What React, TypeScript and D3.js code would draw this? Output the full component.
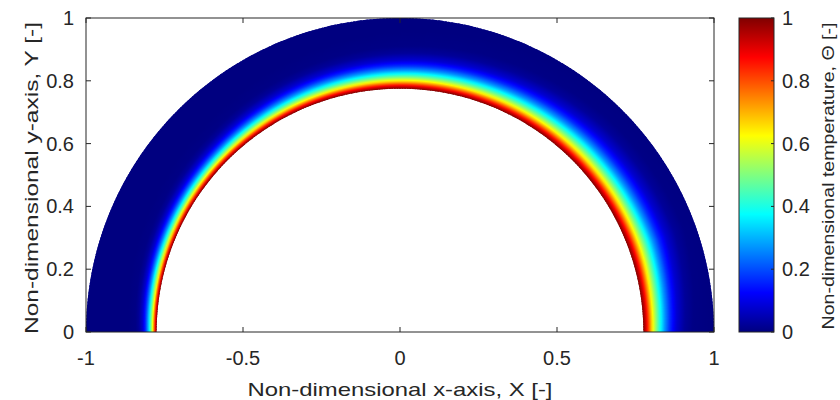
import React, { useMemo } from 'react';
import * as d3 from 'd3';

// ---- data ----
const xTicks = [-1, -0.5, 0, 0.5, 1];
const yTicks = [0, 0.2, 0.4, 0.6, 0.8, 1];
const cbTicks = [0, 0.2, 0.4, 0.6, 0.8, 1];
const xTickLabels = ['-1', '-0.5', '0', '0.5', '1'];
const yTickLabels = ['0', '0.2', '0.4', '0.6', '0.8', '1'];
const cbTickLabels = ['0', '0.2', '0.4', '0.6', '0.8', '1'];
const innerRadius = 0.775;
const outerRadius = 1;
// thermal layer thickness (distance from inner wall where Θ = 0.4) vs polar angle (deg)
const layerAngles = [0, 20, 45, 70, 90, 110, 135, 160, 180];
const layerThickness = [0.052, 0.062, 0.058, 0.05, 0.045, 0.04, 0.032, 0.027, 0.022];
// normalised temperature profile across the layer: s = (r - ri) / thickness
const profileS = [0, 0.15, 0.3, 0.55, 0.8, 1.0, 1.3, 1.6, 2.0, 2.5, 3.0, 4.0];
const profileTheta = [1, 0.92, 0.82, 0.64, 0.5, 0.4, 0.27, 0.17, 0.08, 0.025, 0.005, 0];
// jet colormap
const jetStops = [0, 0.125, 0.375, 0.625, 0.875, 1];
const jetColors = ['#000080', '#0000ff', '#00ffff', '#ffff00', '#ff0000', '#800000'];

const W = 840;
const H = 400;
const plot = { left: 86, right: 714, top: 18, bottom: 332 };
const cb = { left: 739, right: 774, top: 18, bottom: 332 };
const FONT = '"Liberation Sans", Arial, Helvetica, sans-serif';
const AX = '#262626';

export default function App() {
  const x = d3.scaleLinear().domain([-1, 1]).range([plot.left, plot.right]);
  const y = d3.scaleLinear().domain([0, 1]).range([plot.bottom, plot.top]);
  const color = d3.scaleLinear<string>().domain(jetStops).range(jetColors).clamp(true);
  const thick = d3.scaleLinear().domain(layerAngles).range(layerThickness).clamp(true);
  const prof = d3.scaleLinear().domain(profileS).range(profileTheta).clamp(true);
  const cbY = d3.scaleLinear().domain([0, 1]).range([cb.bottom, cb.top]);

  const cx = x(0);
  const cy = y(0);
  const rPix = x(1) - x(0);

  const nWedges = 300;
  const wedges = useMemo(() => {
    const out: { d: string; stops: { o: number; c: string }[] }[] = [];
    const arc = d3.arc();
    const step = Math.PI / nWedges;
    const rs: number[] = [];
    for (let r = innerRadius; r <= outerRadius + 1e-9; r += 0.0045) rs.push(r);
    rs.push(outerRadius);
    for (let i = 0; i < nWedges; i++) {
      const phi0 = i * step;
      const phi1 = (i + 1) * step;
      const phiMid = (phi0 + phi1) / 2;
      const a0 = Math.PI / 2 - phi1 - step * 0.35;
      const a1 = Math.PI / 2 - phi0 + step * 0.35;
      const d = arc({
        innerRadius: innerRadius * rPix,
        outerRadius: outerRadius * rPix,
        startAngle: Math.max(-Math.PI / 2, a0),
        endAngle: Math.min(Math.PI / 2, a1),
      }) as string;
      const delta = thick((phiMid * 180) / Math.PI);
      const stops = rs.map((r) => ({ o: r, c: color(prof((r - innerRadius) / delta)) }));
      out.push({ d, stops });
    }
    return out;
  }, []);

  return (
    <svg width={W} height={H} style={{ position: 'absolute', left: 0, top: 0, background: '#fff' }}>
      <defs>
        {wedges.map((w, i) => (
          <radialGradient key={i} id={`g${i}`} gradientUnits="userSpaceOnUse" cx={0} cy={0} r={rPix}>
            {w.stops.map((s, j) => (
              <stop key={j} offset={s.o} stopColor={s.c} />
            ))}
          </radialGradient>
        ))}
        <linearGradient id="cbg" x1="0" y1="1" x2="0" y2="0">
          {jetStops.map((s, i) => (
            <stop key={i} offset={s} stopColor={jetColors[i]} />
          ))}
        </linearGradient>
      </defs>
      <rect x={0} y={0} width={W} height={H} fill="#fff" />

      {/* field */}
      <g transform={`translate(${cx},${cy})`}>
        {wedges.map((w, i) => (
          <path key={i} d={w.d} fill={`url(#g${i})`} />
        ))}
      </g>

      {/* axes box */}
      <rect x={plot.left} y={plot.top} width={plot.right - plot.left} height={plot.bottom - plot.top}
        fill="none" stroke={AX} strokeWidth={1} />
      {xTicks.map((t, i) => (
        <g key={`xt${i}`}>
          <line x1={x(t)} x2={x(t)} y1={plot.bottom} y2={plot.bottom - 5} stroke={AX} />
          <line x1={x(t)} x2={x(t)} y1={plot.top} y2={plot.top + 5} stroke={AX} />
          <text x={x(t)} y={365} textAnchor="middle" fontFamily={FONT} fontSize={20} fill={AX}>
            {xTickLabels[i]}
          </text>
        </g>
      ))}
      {yTicks.map((t, i) => (
        <g key={`yt${i}`}>
          <line x1={plot.left} x2={plot.left + 5} y1={y(t)} y2={y(t)} stroke={AX} />
          <line x1={plot.right} x2={plot.right - 5} y1={y(t)} y2={y(t)} stroke={AX} />
          <text x={74} y={y(t)} dy="0.35em" textAnchor="end" fontFamily={FONT} fontSize={20} fill={AX}>
            {yTickLabels[i]}
          </text>
        </g>
      ))}
      <text x={400} y={396} textAnchor="middle" fontFamily={FONT} fontSize={19} fill={AX}
        textLength={305} lengthAdjust="spacingAndGlyphs">
        Non-dimensional x-axis, X [-]
      </text>
      <text transform={`translate(38,178) rotate(-90)`} textAnchor="middle" fontFamily={FONT} fontSize={19} fill={AX}
        textLength={312} lengthAdjust="spacingAndGlyphs">
        Non-dimensional y-axis, Y [-]
      </text>

      {/* colorbar */}
      <rect x={cb.left} y={cb.top} width={cb.right - cb.left} height={cb.bottom - cb.top} fill="url(#cbg)" />
      <rect x={cb.left} y={cb.top} width={cb.right - cb.left} height={cb.bottom - cb.top}
        fill="none" stroke={AX} strokeWidth={1} />
      {cbTicks.map((t, i) => (
        <g key={`cb${i}`}>
          <line x1={cb.right} x2={cb.right - 3} y1={cbY(t)} y2={cbY(t)} stroke={AX} />
          <text x={782} y={cbY(t)} dy="0.35em" textAnchor="start" fontFamily={FONT} fontSize={20} fill={AX}>
            {cbTickLabels[i]}
          </text>
        </g>
      ))}
      <text transform={`translate(834,176) rotate(-90)`} textAnchor="middle" fontFamily={FONT} fontSize={17} fill={AX}
        textLength={307} lengthAdjust="spacingAndGlyphs">
        Non-dimensional temperature, Θ [-]
      </text>
    </svg>
  );
}
